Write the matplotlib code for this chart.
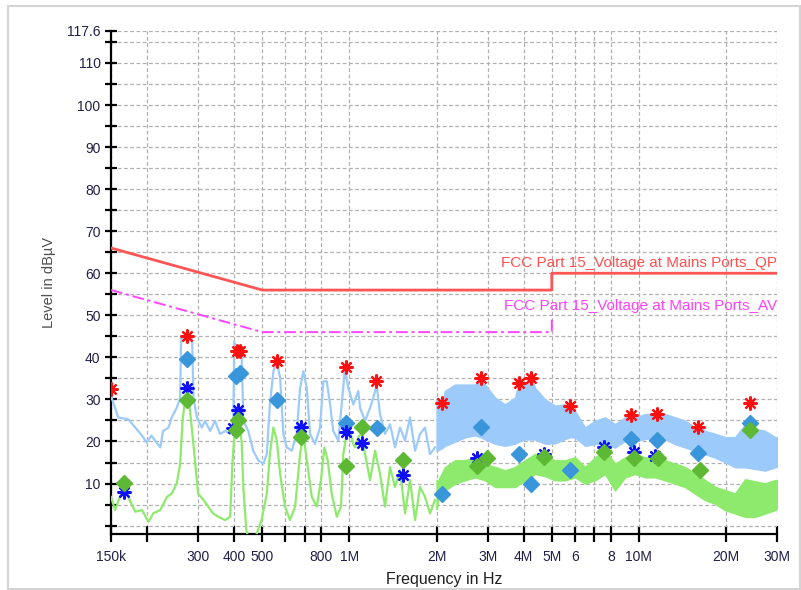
import matplotlib
matplotlib.use("Agg")
import matplotlib.pyplot as plt
from matplotlib.patches import Rectangle
from matplotlib.ticker import FixedLocator, FixedFormatter, NullLocator
import numpy as np

plt.rcParams['font.family'] = ['Liberation Sans', 'DejaVu Sans']

# ---- Limit lines (frequency in Hz, level in dBµV) ----
qp_limit_freq = [150e3, 500e3, 5e6, 5e6, 30e6]
qp_limit_level = [66, 56, 56, 60, 60]
av_limit_freq = [150e3, 500e3, 5e6, 5e6]
av_limit_level = [56, 46, 46, 50]
qp_limit_name = "FCC Part 15_Voltage at Mains Ports_QP"
av_limit_name = "FCC Part 15_Voltage at Mains Ports_AV"

# ---- Peak (QP detector) trace, kHz / dBµV ----
peak_line_khz = [150, 159, 172, 182, 192, 199, 207, 213, 222, 227, 237, 243, 253, 260,
                 262, 275, 286, 289, 297, 309, 317, 330, 343, 357, 372, 387, 397, 400,
                 408, 419, 424, 430, 447, 465, 484, 504, 518, 531, 546, 561, 576, 591,
                 607, 632, 657, 675, 693, 712, 731, 760, 791, 812, 835, 857, 879, 915,
                 940, 965, 991, 1031, 1073, 1088, 1132, 1178, 1209, 1242, 1275, 1327,
                 1381, 1437, 1495, 1556, 1619, 1685, 1753, 1824, 1898, 1975]
peak_line_db = [30.8, 25.7, 25.3, 23.3, 21.4, 19.8, 21.4, 20.2, 18.6, 22.5, 23.3, 25.7, 28.0, 30.4,
                44.5, 45.0, 44.5, 30.4, 25.7, 23.3, 24.9, 22.5, 24.9, 21.8, 22.5, 21.8, 24.9, 43.7,
                41.4, 41.4, 40.6, 24.9, 22.5, 17.8, 15.5, 14.7, 17.0, 28.8, 36.7, 39.0, 35.1, 21.8,
                18.6, 17.8, 21.8, 32.7, 36.7, 32.7, 21.8, 19.4, 23.3, 34.3, 34.3, 28.8, 22.5, 20.2,
                28.8, 37.4, 32.7, 28.8, 32.0, 28.0, 24.9, 28.0, 30.4, 33.5, 26.5, 21.8,
                24.1, 18.6, 23.3, 20.2, 25.7, 17.8, 21.8, 23.3, 17.0, 18.6]
peak_band_khz = [2002, 2094, 2139, 2316, 2508, 2715, 2850, 2940, 3184, 3447, 3733, 3850,
                 4042, 4240, 4377, 4740, 5132, 5557, 5760, 6017, 6516, 7056, 7640, 8273,
                 8958, 9370, 9699, 10503, 11373, 11550, 12315, 13335, 14438, 15634, 16050,
                 16929, 18331, 19849, 21493, 23272, 25200, 27286, 29546, 30000]
peak_band_hi = [30.4, 29.5, 32.0, 33.5, 33.5, 33.5, 35.2, 33.5, 30.4, 28.8, 30.4, 33.9,
                33.5, 35.2, 32.7, 30.0, 28.5, 28.8, 28.4, 27.2, 23.3, 24.9, 25.7, 24.1,
                25.7, 26.2, 25.7, 26.5, 26.5, 26.6, 26.5, 25.7, 24.9, 23.3, 23.5,
                22.5, 21.8, 21.0, 21.0, 24.0, 23.0, 22.5, 21.0, 21.0]
peak_band_lo = [17.8, 18.5, 19.0, 20.0, 21.0, 21.5, 21.0, 20.5, 19.5, 19.0, 19.5, 20.0,
                20.5, 20.5, 20.5, 19.5, 19.6, 20.6, 21.0, 21.0, 19.0, 19.4, 19.4, 18.6,
                20.2, 20.2, 20.2, 20.6, 21.0, 21.0, 20.6, 19.4, 18.6, 17.8, 17.6,
                17.0, 16.2, 15.1, 13.9, 13.9, 13.5, 13.1, 13.9, 14.0]

# ---- Average detector trace, kHz / dBµV ----
avg_line_khz = [150, 155, 161, 168, 174, 182, 192, 202, 210, 222, 234, 243, 253, 260,
                265, 270, 279, 286, 294, 300, 313, 325, 338, 352, 372, 387, 394, 402,
                413, 424, 430, 440, 447, 472, 497, 518, 531, 546, 561, 576, 599, 623,
                649, 675, 693, 712, 741, 771, 797, 819, 841, 868, 904, 935, 952, 978,
                1004, 1031, 1045, 1073, 1103, 1132, 1178, 1226, 1275, 1327, 1381, 1437,
                1495, 1556, 1619, 1685, 1753, 1824, 1898, 1975]
avg_line_db = [6.8, 3.7, 6.8, 9.2, 6.1, 3.3, 3.7, 0.9, 2.9, 3.7, 6.8, 7.6, 10.0, 14.7,
               24.9, 29.6, 29.6, 22.5, 13.9, 7.6, 6.1, 4.5, 2.9, 2.1, 1.3, 2.1, 14.7, 23.3,
               25.7, 20.0, 9.0, -1.0, -3.0, -3.0, 1.3, 7.6, 17.0, 23.3, 20.2, 12.3, 4.5, 1.3,
               4.5, 17.0, 21.8, 15.5, 6.8, 4.5, 10.8, 18.6, 15.5, 7.6, 2.1, 4.5, 17.0, 21.8,
               22.5, 19.4, 18.6, 21.0, 22.0, 17.0, 10.8, 17.8, 12.3, 4.5, 13.9, 9.2,
               13.1, 2.9, 10.8, 1.3, 9.2, 6.8, 2.9, 6.1]
avg_band_khz = [2002, 2028, 2139, 2316, 2508, 2715, 2940, 3184, 3447, 3733, 4042, 4377,
                4740, 5132, 5557, 6017, 6516, 7056, 7640, 8273, 8958, 9699, 10503, 11373,
                12315, 13335, 14438, 15634, 16929, 18331, 19849, 21493, 23272, 25200,
                27286, 29546, 30000]
avg_band_hi = [10.8, 10.8, 13.9, 15.5, 15.5, 16.2, 14.7, 13.9, 13.1, 13.9, 15.5, 17.0,
               16.5, 15.5, 15.5, 16.2, 13.9, 16.2, 17.8, 14.7, 16.2, 17.0, 16.2, 16.2,
               15.5, 14.7, 13.9, 12.3, 10.8, 9.2, 8.4, 7.6, 11.0, 10.5, 10.0, 10.8, 10.8]
avg_band_lo = [4.0, 6.8, 8.4, 10.0, 10.8, 11.5, 10.8, 9.2, 9.2, 9.2, 10.8, 12.3,
               11.8, 10.8, 10.8, 11.5, 10.0, 10.8, 12.3, 8.4, 11.5, 12.3, 11.5, 11.5,
               10.8, 10.0, 9.2, 7.6, 6.1, 5.2, 3.7, 2.9, 2.1, 2.1, 2.9, 3.7, 4.0]

# ---- Final measurement points, kHz / dBµV ----
qp_peak_khz = [150, 275, 408, 419, 563, 969, 1235, 2094, 2850, 3850, 4240, 5760,
               9370, 11550, 16050, 24200]
qp_peak_db = [32.5, 45.0, 41.4, 41.4, 39.2, 37.8, 34.3, 29.2, 35.2, 33.9, 35.2, 28.4,
              26.2, 26.6, 23.5, 29.2]
qp_final_khz = [275, 405, 419, 563, 969, 1242, 2094, 2850, 3850, 4240, 5760, 9370,
                11550, 16050, 24200]
qp_final_db = [39.5, 35.6, 36.3, 29.8, 24.3, 23.3, 7.6, 23.5, 17.0, 9.8, 13.3, 20.6,
               20.4, 17.3, 24.5]
av_peak_khz = [166, 274, 397, 411, 680, 969, 1101, 1535, 2760, 4700, 7580, 9620, 11370]
av_peak_db = [8.0, 32.7, 23.3, 27.6, 23.5, 22.3, 19.6, 12.1, 16.1, 17.0, 18.6, 17.4, 16.6]
av_final_khz = [166, 275, 405, 411, 680, 975, 1101, 1535, 2760, 2980, 4700, 7580, 9620,
                11650, 16200, 24200]
av_final_db = [10.2, 29.8, 22.7, 25.2, 21.1, 14.1, 23.5, 15.5, 14.1, 16.1, 16.3, 17.4,
               16.1, 16.1, 13.1, 22.7]

# ---- Axis ticks ----
x_tick_hz = [150e3, 200e3, 300e3, 400e3, 500e3, 600e3, 700e3, 800e3, 1e6, 2e6, 3e6,
             4e6, 5e6, 6e6, 7e6, 8e6, 10e6, 20e6, 30e6]
x_tick_labels = ["150k", "", "300", "400", "500", "", "", "800", "1M", "2M", "3M",
                 "4M", "5M", "6", "", "8", "10M", "20M", "30M"]
y_major = [10, 20, 30, 40, 50, 60, 70, 80, 90, 100, 110, 117.6]
y_major_labels = ["10", "20", "30", "40", "50", "60", "70", "80", "90", "100", "110", "117.6"]
y_minor = [0, 5, 15, 25, 35, 45, 55, 65, 75, 85, 95, 105, 115]

PEAK_COLOR = "#9CCBFB"
AVG_COLOR = "#8EEA6C"
TICK_COLOR = "#202048"

fig = plt.figure(figsize=(8.01, 5.90), dpi=100)
fig.patch.set_facecolor("white")
fig.add_artist(Rectangle((8 / 801, 1 / 590), 792 / 801, 583 / 590, transform=fig.transFigure,
                         fill=False, edgecolor="#d4d4d4", lw=1.5))

ax = fig.add_axes([111 / 801, 1 - 534 / 590, 666 / 801, 503 / 590])
ax.set_xscale("log")
ax.set_xlim(150e3, 30e6)
ax.set_ylim(-2, 117.6)

khz = lambda v: np.asarray(v, dtype=float) * 1e3

# traces
ax.plot(khz(peak_line_khz), peak_line_db, color=PEAK_COLOR, lw=1.6, zorder=3)
ax.fill_between(khz(peak_band_khz), peak_band_lo, peak_band_hi, color=PEAK_COLOR, lw=1.2,
                edgecolor=PEAK_COLOR, zorder=3)
ax.plot(khz(avg_line_khz), avg_line_db, color=AVG_COLOR, lw=1.6, zorder=3)
ax.fill_between(khz(avg_band_khz), avg_band_lo, avg_band_hi, color=AVG_COLOR, lw=1.2,
                edgecolor=AVG_COLOR, zorder=3)

# limit lines
ax.plot(qp_limit_freq, qp_limit_level, color="#FF5555", lw=2.0, zorder=4)
ax.plot(av_limit_freq, av_limit_level, color="#FF44FF", lw=1.4, ls=(0, (6, 2, 1.5, 2)), zorder=4)
ax.text(qp_limit_freq[-1], qp_limit_level[-1] + 0.8, qp_limit_name, ha="right", va="bottom",
        color="#FF5050", fontsize=11, zorder=5)
ax.text(qp_limit_freq[-1], av_limit_level[-1] + 0.5, av_limit_name, ha="right", va="bottom",
        color="#FF40FF", fontsize=11, zorder=5)

# final measurement markers
ax.plot(khz(qp_peak_khz), qp_peak_db, ls="none", marker=(8, 2, 0), ms=10, mew=1.6,
        color="#FF1010", zorder=6)
ax.plot(khz(qp_final_khz), qp_final_db, ls="none", marker="D", ms=8.5,
        color="#3A96DA", mec="#3A96DA", zorder=6)
ax.plot(khz(av_peak_khz), av_peak_db, ls="none", marker=(8, 2, 0), ms=10, mew=1.6,
        color="#1010FF", zorder=6)
ax.plot(khz(av_final_khz), av_final_db, ls="none", marker="D", ms=8.5,
        color="#5DB833", mec="#5DB833", zorder=7)

# axes styling
for side in ("top", "right"):
    ax.spines[side].set_visible(False)
for side in ("left", "bottom"):
    ax.spines[side].set_linewidth(1.6)
    ax.spines[side].set_color("black")

ax.xaxis.set_major_locator(FixedLocator(x_tick_hz))
ax.xaxis.set_major_formatter(FixedFormatter(x_tick_labels))
ax.xaxis.set_minor_locator(NullLocator())
ax.yaxis.set_major_locator(FixedLocator(y_major))
ax.yaxis.set_major_formatter(FixedFormatter(y_major_labels))
ax.yaxis.set_minor_locator(FixedLocator(y_minor))

ax.tick_params(axis="both", which="both", direction="inout", width=1.6, color="black",
               labelcolor=TICK_COLOR, labelsize=10)
ax.tick_params(axis="x", which="major", length=11, pad=6)
ax.tick_params(axis="y", which="both", length=9, pad=3)

ax.grid(True, which="major", axis="x", color="#b0b0b0", ls=(0, (3, 2)), lw=0.9)
ax.grid(True, which="both", axis="y", color="#b0b0b0", ls=(0, (3, 2)), lw=0.9)
ax.set_axisbelow(True)

ax.set_xlabel("Frequency in Hz", fontsize=11.5, color="#202020", labelpad=6)
ax.set_ylabel("Level in dBµV", fontsize=10.5, color="#505050", labelpad=8)

fig.savefig("out.png", dpi=100, facecolor="white")
